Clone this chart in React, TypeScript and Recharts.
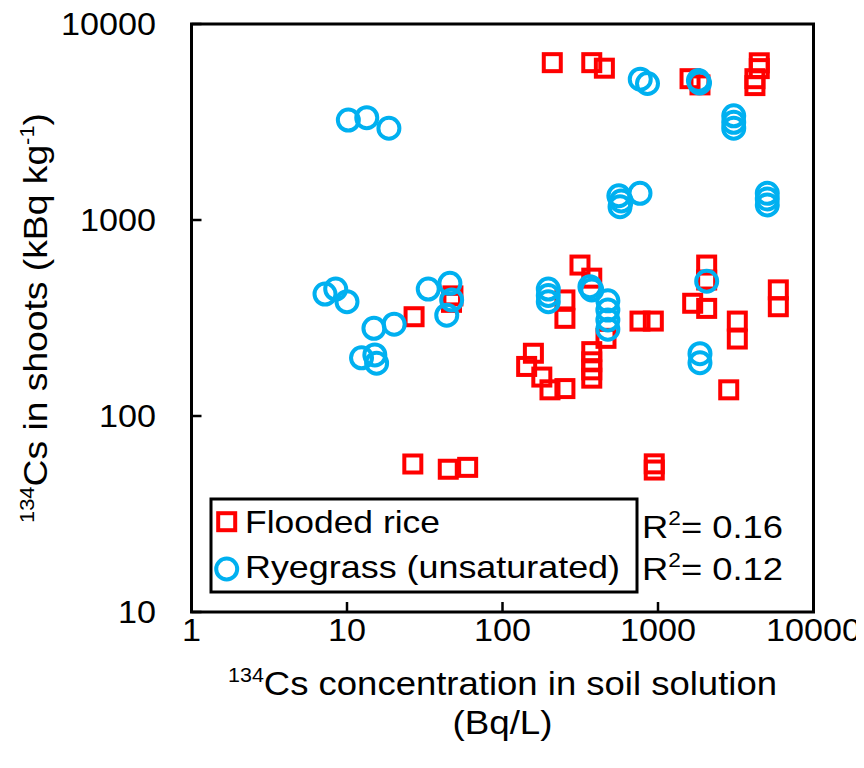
import { ScatterChart, Scatter, XAxis, YAxis, ReferenceArea, Legend } from 'recharts';

const FONT = '"Liberation Sans", Arial, sans-serif';

const xTicks = [1, 10, 100, 1000, 10000];
const yTicks = [10, 100, 1000, 10000];

const seriesNames = ['Flooded rice', 'Ryegrass (unsaturated)'];
const r2Values = ['0.16', '0.12'];

// Flooded rice (red squares)
const riceX = [209, 375, 452, 1607, 1862, 4480, 4480, 4200, 4200,
  27, 48, 47,
  315, 375, 252, 252, 766, 933, 158, 143, 179, 202, 252, 375, 375, 375, 375, 463,
  2056, 2056, 1671, 2056, 3236, 3236, 5940, 5940, 2850,
  26.5, 44.8, 59.7, 946, 946];
const riceY = [6350, 6350, 5950, 5260, 4890, 6340, 5920, 5260, 4850,
  321, 410, 380,
  589, 505, 391, 315, 305, 305, 209, 179, 158, 136, 138, 213, 189, 172, 156, 249,
  589, 354, 376, 494, 305, 247, 440, 361, 136,
  56.9, 53.5, 54.7, 57, 53];

// Ryegrass, unsaturated (blue circles)
const ryeX = [10.2, 13.4, 18.6,
  769, 856, 1820, 1850, 3069, 3069, 3069, 560, 580, 570, 766, 5045, 5045, 5045,
  7.22, 8.46, 10.0, 14.9, 20.1, 12.4, 15.1, 15.5, 33.3, 45.9, 47.1, 43.8,
  197, 197, 197, 365, 375, 476, 476, 476, 476, 2056, 1862, 1862];
const ryeY = [3236, 3326, 2939,
  5230, 4970, 5150, 5000, 3400, 3150, 2940, 1330, 1250, 1170, 1368, 1368, 1280, 1194,
  419, 444, 383, 280, 294, 198, 205, 186, 444, 475, 391, 327,
  444, 412, 383, 457, 440, 387, 347, 309, 277, 487, 208, 187];

const riceData = riceX.map((x, i) => ({ x, y: riceY[i] }));
const ryeData = ryeX.map((x, i) => ({ x, y: ryeY[i] }));

const RED = '#FF0000';
const BLUE = '#00B0F0';

function RiceShape(props: any) {
  const { cx, cy } = props;
  if (cx == null || cy == null) return null;
  return <rect x={cx - 8.5} y={cy - 8.5} width={17} height={17} fill="none" stroke={RED} strokeWidth={4} />;
}

function RyeShape(props: any) {
  const { cx, cy } = props;
  if (cx == null || cy == null) return null;
  return <circle cx={cx} cy={cy} r={10.5} fill="none" stroke={BLUE} strokeWidth={4} />;
}

function XTick(props: any) {
  const { x, y, payload } = props;
  const label = String(payload.value);
  return (
    <g>
      <line x1={x} x2={x} y1={y} y2={y - 10} stroke="#000" strokeWidth={2.5} />
      <text x={x} y={y + 29} textAnchor="middle" fontFamily={FONT} fontSize={31} fill="#000"
        textLength={19 * label.length} lengthAdjust="spacingAndGlyphs">{label}</text>
    </g>
  );
}

function YTick(props: any) {
  const { x, y, payload } = props;
  const label = String(payload.value);
  return (
    <g>
      <line x1={x} x2={x + 10} y1={y} y2={y} stroke="#000" strokeWidth={2.5} />
      <text x={x - 35.5} y={y + 11} textAnchor="end" fontFamily={FONT} fontSize={31} fill="#000"
        textLength={19 * label.length} lengthAdjust="spacingAndGlyphs">{label}</text>
    </g>
  );
}

function XTitle(props: any) {
  const vb = props.viewBox || { x: 183.5, y: 604, width: 622, height: 156 };
  const cx = vb.x + vb.width / 2;
  return (
    <g fontFamily={FONT} fill="#000">
      <text x={cx} y={vb.y + 83} textAnchor="middle" fontSize={34} textLength={549} lengthAdjust="spacingAndGlyphs">
        <tspan fontSize={20} dy={-13}>134</tspan>
        <tspan dy={13}>Cs concentration in soil solution</tspan>
      </text>
      <text x={cx} y={vb.y + 122} textAnchor="middle" fontSize={34} textLength={100} lengthAdjust="spacingAndGlyphs">(Bq/L)</text>
    </g>
  );
}

function YTitle(props: any) {
  const vb = props.viewBox || { x: 0, y: 16, width: 183.5, height: 588 };
  const cy = vb.y + vb.height / 2;
  const tx = 39;
  return (
    <text x={tx} y={cy} textAnchor="middle" fontFamily={FONT} fontSize={34} fill="#000"
      transform={`rotate(-90 ${tx} ${cy})`} textLength={410} lengthAdjust="spacingAndGlyphs">
      <tspan fontSize={20} dy={-13}>134</tspan>
      <tspan dy={13}>Cs in shoots (kBq kg</tspan>
      <tspan fontSize={20} dy={-13}>-1</tspan>
      <tspan dy={13}>)</tspan>
    </text>
  );
}

function LegendBox() {
  return (
    <svg width={620} height={110} style={{ display: 'block' }}>
      <rect x={8} y={6} width={426} height={93} fill="#fff" stroke="#000" strokeWidth={3} />
      <rect x={23.7 - 8.5} y={28.7 - 8.5} width={17} height={17} fill="none" stroke={RED} strokeWidth={4} />
      <circle cx={23.7} cy={76} r={10.5} fill="none" stroke={BLUE} strokeWidth={4} />
      <g fontFamily={FONT} fontSize={32} fill="#000">
        <text x={42} y={40} textLength={195} lengthAdjust="spacingAndGlyphs">{seriesNames[0]}</text>
        <text x={42} y={85} textLength={375} lengthAdjust="spacingAndGlyphs">{seriesNames[1]}</text>
        {r2Values.map((v, i) => (
          <text key={v} x={439} y={i === 0 ? 45 : 87} textLength={141} lengthAdjust="spacingAndGlyphs">
            R<tspan fontSize={20} dy={-13}>2</tspan><tspan dy={13}>= {v}</tspan>
          </text>
        ))}
      </g>
    </svg>
  );
}

export default function App() {
  return (
    <div style={{ width: 856, height: 760, background: '#fff' }}>
      <ScatterChart width={856} height={760} margin={{ top: 16, right: 50.5, bottom: 0, left: 0 }}>
        <XAxis type="number" dataKey="x" scale="log" domain={[1, 10000]} ticks={xTicks} interval={0}
          allowDataOverflow axisLine={false} tickLine={false} tickSize={0} tickMargin={0}
          tick={<XTick />} height={156} label={<XTitle />} />
        <YAxis type="number" dataKey="y" scale="log" domain={[10, 10000]} ticks={yTicks} interval={0}
          allowDataOverflow axisLine={false} tickLine={false} tickSize={0} tickMargin={0}
          tick={<YTick />} width={183.5} label={<YTitle />} />
        <ReferenceArea x1={1} x2={10000} y1={10} y2={10000} fill="none" fillOpacity={0}
          stroke="#000" strokeWidth={3} strokeOpacity={1} ifOverflow="visible" />
        <Scatter name={seriesNames[0]} data={riceData} shape={<RiceShape />} isAnimationActive={false} />
        <Scatter name={seriesNames[1]} data={ryeData} shape={<RyeShape />} isAnimationActive={false} />
        <Legend layout="vertical" align="center" verticalAlign="middle"
          wrapperStyle={{ position: 'absolute', left: 195, top: 485, width: 620, height: 110 }}
          content={() => <LegendBox />} />
      </ScatterChart>
    </div>
  );
}
